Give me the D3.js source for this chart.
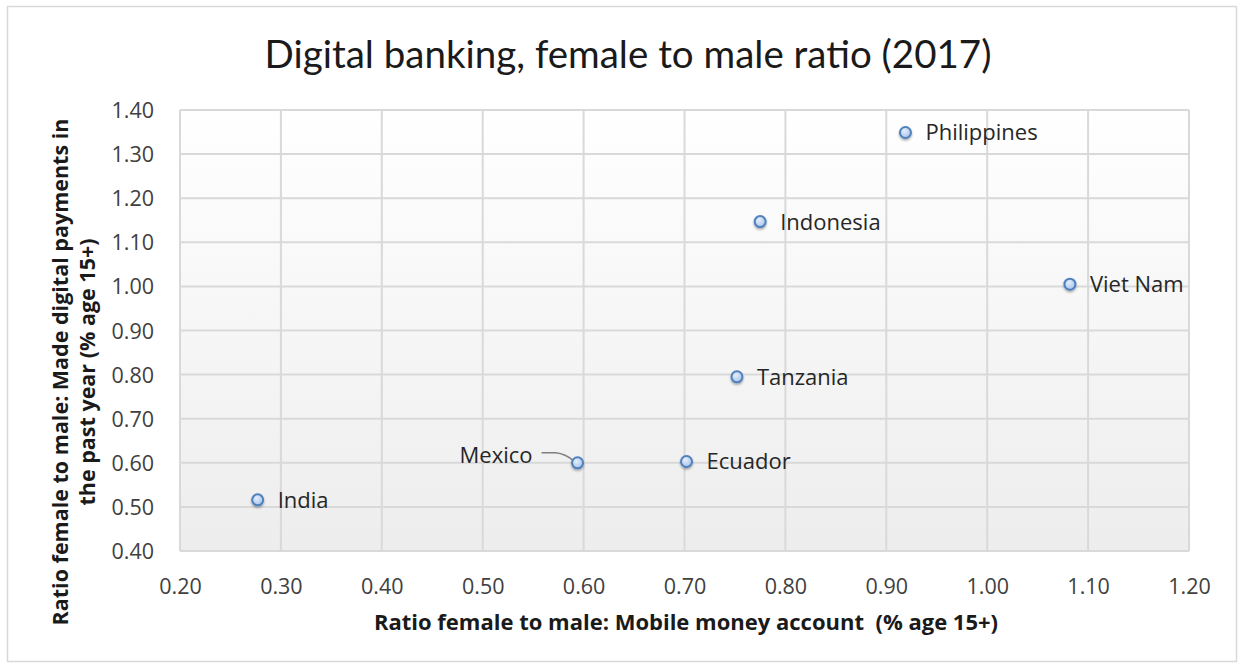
<!DOCTYPE html>
<html>
<head>
<meta charset="utf-8">
<script src="https://cdn.jsdelivr.net/npm/d3@7"></script>
<style>
  body { margin: 0; background: #fff; }
  .tick text { font-family: "Open Sans", sans-serif; font-size: 21.5px; fill: #404040; }
  .ptLabel { font-family: "Open Sans", sans-serif; font-size: 22px; fill: #262626; }
  .axisTitle { font-family: "Open Sans", sans-serif; font-weight: bold; fill: #1a1a1a; }
  .plotTitle { font-family: "Lato", sans-serif; font-size: 38.5px; fill: #1a1a1a; }
</style>
</head>
<body>
<div id="chart"></div>
<script>
// Data
var countries = ["India", "Mexico", "Ecuador", "Tanzania", "Indonesia", "Philippines", "Viet Nam"];
var mobileMoney = [0.277, 0.594, 0.702, 0.752, 0.775, 0.919, 1.082];
var digitalPayments = [0.516, 0.600, 0.603, 0.795, 1.147, 1.349, 1.005];
var xTicks = [0.2, 0.3, 0.4, 0.5, 0.6, 0.7, 0.8, 0.9, 1.0, 1.1, 1.2];
var yTicks = [0.4, 0.5, 0.6, 0.7, 0.8, 0.9, 1.0, 1.1, 1.2, 1.3, 1.4];

var width = 1244, height = 667;
var plotLeft = 180, plotRight = 1189, plotTop = 110, plotBottom = 551;

var svg = d3.select('#chart').append('svg')
  .attr('width', width)
  .attr('height', height);

var defs = svg.append('defs');
var bgGrad = defs.append('linearGradient').attr('id', 'bgGrad')
  .attr('x1', 0).attr('y1', 0).attr('x2', 0).attr('y2', 1);
bgGrad.append('stop').attr('offset', '0%').attr('stop-color', '#ffffff');
bgGrad.append('stop').attr('offset', '100%').attr('stop-color', '#ededed');

var dotGrad = defs.append('radialGradient').attr('id', 'dotGrad')
  .attr('cx', '40%').attr('cy', '35%').attr('r', '65%');
dotGrad.append('stop').attr('offset', '0%').attr('stop-color', '#e4eefb');
dotGrad.append('stop').attr('offset', '100%').attr('stop-color', '#a9c4ea');

var shadow = defs.append('filter').attr('id', 'shadow')
  .attr('x', '-50%').attr('y', '-50%').attr('width', '200%').attr('height', '200%');
shadow.append('feDropShadow').attr('dx', 0).attr('dy', 1.5)
  .attr('stdDeviation', 1.2).attr('flood-color', '#000').attr('flood-opacity', 0.35);

// Outer chart border
svg.append('rect')
  .attr('x', 7.5).attr('y', 6.5)
  .attr('width', 1229).attr('height', 655)
  .attr('fill', 'none').attr('stroke', '#d9d9d9').attr('stroke-width', 1.5);

var xScale = d3.scaleLinear().domain([0.2, 1.2]).range([plotLeft, plotRight]);
var yScale = d3.scaleLinear().domain([0.4, 1.4]).range([plotBottom, plotTop]);

// Plot background
svg.append('rect')
  .attr('x', plotLeft).attr('y', plotTop)
  .attr('width', plotRight - plotLeft).attr('height', plotBottom - plotTop)
  .attr('fill', 'url(#bgGrad)');

// Gridlines
svg.append('g').selectAll('line').data(xTicks).enter().append('line')
  .attr('x1', function (d) { return xScale(d); })
  .attr('x2', function (d) { return xScale(d); })
  .attr('y1', plotTop).attr('y2', plotBottom)
  .attr('stroke', '#d9d9d9').attr('stroke-width', 2);
svg.append('g').selectAll('line').data(yTicks).enter().append('line')
  .attr('x1', plotLeft).attr('x2', plotRight)
  .attr('y1', function (d) { return yScale(d); })
  .attr('y2', function (d) { return yScale(d); })
  .attr('stroke', '#d9d9d9').attr('stroke-width', 2);

// Axes (labels only)
var xAxis = svg.append('g')
  .attr('transform', `translate(0, ${plotBottom + 25})`)
  .call(d3.axisBottom(xScale).tickValues(xTicks).tickSize(0).tickFormat(d3.format('.2f')));
xAxis.select('.domain').remove();

var yAxis = svg.append('g')
  .attr('transform', `translate(${plotLeft - 23}, 0)`)
  .call(d3.axisLeft(yScale).tickValues(yTicks).tickSize(0).tickFormat(d3.format('.2f')));
yAxis.select('.domain').remove();
yAxis.selectAll('.tick text').attr('dy', '0.35em');

// Title
svg.append('text')
  .attr('class', 'plotTitle')
  .attr('text-anchor', 'middle')
  .attr('x', 628).attr('y', 68)
  .text('Digital banking, female to male ratio (2017)');

// Axis titles
svg.append('text')
  .attr('class', 'axisTitle')
  .attr('text-anchor', 'middle')
  .style('font-size', '22px')
  .attr('x', 686).attr('y', 630)
  .attr('xml:space', 'preserve')
  .text('Ratio female to male: Mobile money account  (% age 15+)');

var yTitle = svg.append('text')
  .attr('class', 'axisTitle')
  .attr('text-anchor', 'middle')
  .style('font-size', '21.5px')
  .attr('transform', 'rotate(-90)');
yTitle.append('tspan').attr('x', -372).attr('y', 68)
  .text('Ratio female to male: Made digital payments in');
yTitle.append('tspan').attr('x', -372).attr('y', 95)
  .text('the past year (% age 15+)');

var points = countries.map(function (c, i) {
  return { name: c, x: mobileMoney[i], y: digitalPayments[i] };
});

// Mexico leader line
var mex = points[1];
svg.append('path')
  .attr('d', `M ${xScale(mex.x) - 36} ${yScale(mex.y) - 10} L ${xScale(mex.x) - 22} ${yScale(mex.y) - 10} Q ${xScale(mex.x) - 12} ${yScale(mex.y) - 9} ${xScale(mex.x) - 4} ${yScale(mex.y) - 2}`)
  .attr('fill', 'none').attr('stroke', '#7f7f7f').attr('stroke-width', 1.5);

// Markers
svg.append('g').selectAll('circle').data(points).enter().append('circle')
  .attr('cx', function (d) { return xScale(d.x); })
  .attr('cy', function (d) { return yScale(d.y); })
  .attr('r', 5.5)
  .attr('fill', 'url(#dotGrad)')
  .attr('stroke', '#4f81bd')
  .attr('stroke-width', 2)
  .attr('filter', 'url(#shadow)');

// Point labels
svg.append('g').selectAll('text').data(points).enter().append('text')
  .attr('class', 'ptLabel')
  .attr('text-anchor', function (d) { return d.name === 'Mexico' ? 'end' : 'start'; })
  .attr('x', function (d) { return d.name === 'Mexico' ? xScale(d.x) - 45 : xScale(d.x) + 20; })
  .attr('y', function (d) { return d.name === 'Mexico' ? yScale(d.y) : yScale(d.y) + 8; })
  .text(function (d) { return d.name; });
</script>
</body>
</html>
